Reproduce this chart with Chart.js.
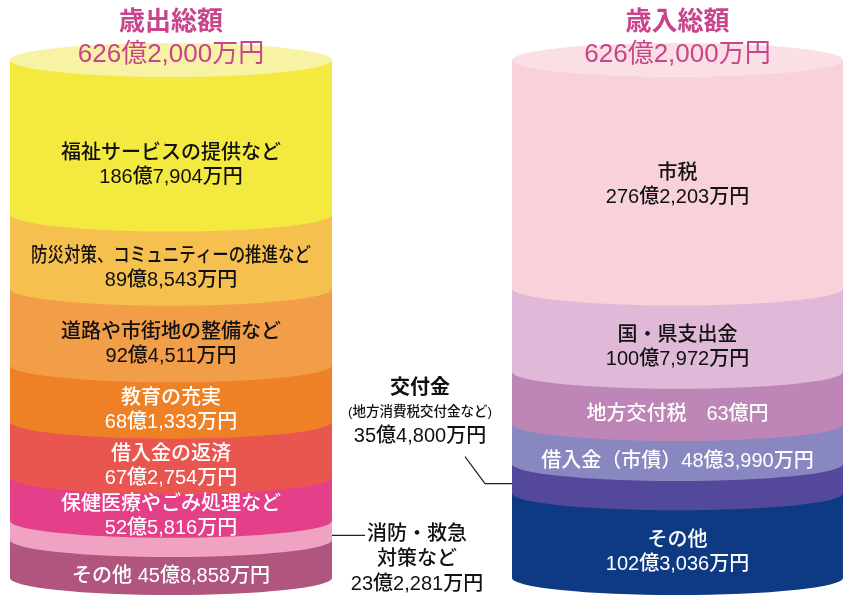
<!DOCTYPE html>
<html lang="ja">
<head>
<meta charset="utf-8">
<script src="https://cdn.jsdelivr.net/npm/chart.js@4"></script>
<style>
  html, body { margin: 0; padding: 0; background: #fff; }
  #wrap { width: 844px; height: 595px; position: relative; }
</style>
</head>
<body>
<div id="wrap"><canvas id="budgetChart"></canvas></div>
<script>
// 歳出 (top to bottom), 単位: 億円
const expenseNames = ['福祉サービスの提供など', '防災対策、コミュニティーの推進など', '道路や市街地の整備など', '教育の充実', '借入金の返済', '保健医療やごみ処理など', '消防・救急対策など', 'その他'];
const expenseValues = [186.7904, 89.8543, 92.4511, 68.1333, 67.2754, 52.5816, 23.2281, 45.8858];
const expenseAmounts = ['186億7,904万円', '89億8,543万円', '92億4,511万円', '68億1,333万円', '67億2,754万円', '52億5,816万円', '23億2,281万円', '45億8,858万円'];
const expenseColors = ['#f3e93f', '#f6c04e', '#f29d48', '#ee8126', '#e9564f', '#e4408a', '#f0a2c3', '#b0567e'];

// 歳入 (top to bottom), 単位: 億円
const revenueNames = ['市税', '国・県支出金', '地方交付税', '借入金（市債）', '交付金', 'その他'];
const revenueValues = [276.2203, 100.7972, 63, 48.3990, 35.4800, 102.3036];
const revenueAmounts = ['276億2,203万円', '100億7,972万円', '63億円', '48億3,990万円', '35億4,800万円', '102億3,036万円'];
const revenueColors = ['#f8d1db', '#dfb9d7', '#bd86b7', '#8987c0', '#53489b', '#0d3a83'];

const columns = ['歳出総額', '歳入総額'];
const totals = ['626億2,000万円', '626億2,000万円'];
const topColors = ['#f7f2a4', '#fae0e4'];

const RY = 17;
const FONT = '"Liberation Sans", "Noto Sans CJK JP", sans-serif';

// how each segment's text is laid out
function expenseLines(i) {
    if (i === 6) return { callout: ['消防・救急', '対策など', expenseAmounts[i]] };
    if (i === 7) return { lines: [expenseNames[i] + ' ' + expenseAmounts[i]] };
    return { lines: [expenseNames[i], expenseAmounts[i]] };
}
function revenueLines(i) {
    if (i === 2) return { lines: [revenueNames[i] + '\u3000' + revenueAmounts[i]] };
    if (i === 3) return { lines: [revenueNames[i] + revenueAmounts[i]] };
    if (i === 4) return { callout: [revenueNames[i], '(地方消費税交付金など)', revenueAmounts[i]] };
    return { lines: [revenueNames[i], revenueAmounts[i]] };
}
const whiteText = { 0: [3, 4, 5, 7], 1: [2, 3, 5] };
const textNudge = { 0: { 0: 11 }, 1: { 0: -6 } };

// datasets are stacked bottom first
const datasets = [];
for (let i = expenseValues.length - 1; i >= 0; i--) {
    datasets.push({
        label: expenseNames[i], data: [expenseValues[i], null],
        backgroundColor: expenseColors[i], barThickness: 322,
        column: 0, seg: i, text: expenseLines(i)
    });
}
for (let i = revenueValues.length - 1; i >= 0; i--) {
    datasets.push({
        label: revenueNames[i], data: [null, revenueValues[i]],
        backgroundColor: revenueColors[i], barThickness: 331,
        column: 1, seg: i, text: revenueLines(i)
    });
}

function segGeom(chart, i) {
    const ds = chart.data.datasets[i];
    const el = chart.getDatasetMeta(i).data[ds.column];
    return el.getProps(['x', 'y', 'base', 'width'], true);
}

const cylinderPlugin = {
    id: 'cylinder',
    beforeDatasetsDraw(chart) {
        const ctx = chart.ctx;
        const tops = {};
        chart.data.datasets.forEach((ds, i) => {
            const { x, y, base, width } = segGeom(chart, i);
            const rx = width / 2;
            ctx.fillStyle = ds.backgroundColor;
            ctx.beginPath();
            ctx.moveTo(x - rx, y);
            ctx.lineTo(x + rx, y);
            ctx.lineTo(x + rx, base);
            ctx.ellipse(x, base, rx, RY, 0, 0, Math.PI);
            ctx.closePath();
            ctx.fill();
            tops[ds.column] = { x, y, rx };
        });
        Object.keys(tops).forEach(c => {
            const t = tops[c];
            ctx.fillStyle = topColors[c];
            ctx.beginPath();
            ctx.ellipse(t.x, t.y, t.rx, RY, 0, 0, Math.PI * 2);
            ctx.fill();
        });
        return false;
    },
    afterDraw(chart) {
        const ctx = chart.ctx;
        ctx.save();
        ctx.textAlign = 'center';
        ctx.textBaseline = 'middle';
        const tops = {};
        chart.data.datasets.forEach((ds, i) => {
            const { x, y, base, width } = segGeom(chart, i);
            const rx = width / 2;
            tops[ds.column] = { x, y };
            const mid = (y + base) / 2;
            if (ds.text.lines) {
                const n = ds.text.lines.length;
                const nudge = (textNudge[ds.column] || {})[ds.seg] || 0;
                const cy = mid + RY + nudge;
                ctx.fillStyle = whiteText[ds.column].includes(ds.seg) ? '#ffffff' : '#111111';
                ctx.font = '500 20px ' + FONT;
                ds.text.lines.forEach((ln, k) => {
                    ctx.fillText(ln, x, cy + (k - (n - 1) / 2) * 24, width - 42);
                });
            } else {
                ctx.strokeStyle = '#222';
                ctx.lineWidth = 1.2;
                ctx.fillStyle = '#111';
                const ly = mid + 5;
                ctx.beginPath();
                if (ds.column === 0) {
                    ctx.moveTo(x + rx, ly);
                    ctx.lineTo(x + rx + 33, ly);
                    ctx.stroke();
                    const tx = x + rx + 85;
                    ctx.font = '500 20px ' + FONT;
                    ds.text.callout.forEach((ln, k) => ctx.fillText(ln, tx, ly - 1 + k * 25));
                } else {
                    const ex = x - rx;
                    ctx.moveTo(ex, ly);
                    ctx.lineTo(ex - 27, ly);
                    ctx.lineTo(ex - 47, ly - 27);
                    ctx.stroke();
                    const tx = ex - 92;
                    ctx.font = 'bold 20px ' + FONT;
                    ctx.fillText(ds.text.callout[0], tx, ly - 95);
                    ctx.font = '500 13.5px ' + FONT;
                    ctx.fillText(ds.text.callout[1], tx, ly - 71);
                    ctx.font = '500 20px ' + FONT;
                    ctx.fillText(ds.text.callout[2], tx, ly - 47);
                }
            }
        });
        // column titles
        Object.keys(tops).forEach(c => {
            const t = tops[c];
            ctx.fillStyle = '#c8448c';
            ctx.font = 'bold 26px ' + FONT;
            ctx.fillText(columns[c], t.x, 23);
            ctx.font = '400 26px ' + FONT;
            ctx.fillText(totals[c], t.x, 55);
        });
        ctx.restore();
    }
};

const ctx = document.getElementById('budgetChart').getContext('2d');
const budgetChart = new Chart(ctx, {
    type: 'bar',
    data: { labels: columns, datasets: datasets },
    options: {
        responsive: true,
        maintainAspectRatio: false,
        animation: false,
        layout: { padding: { left: 171, right: 166.5, top: 60, bottom: 17 } },
        plugins: {
            legend: { display: false },
            tooltip: { enabled: false },
            title: { display: false }
        },
        scales: {
            x: { stacked: true, offset: false, display: false },
            y: { stacked: true, display: false, min: 0, max: 626.2 }
        }
    },
    plugins: [cylinderPlugin]
});
</script>
</body>
</html>
